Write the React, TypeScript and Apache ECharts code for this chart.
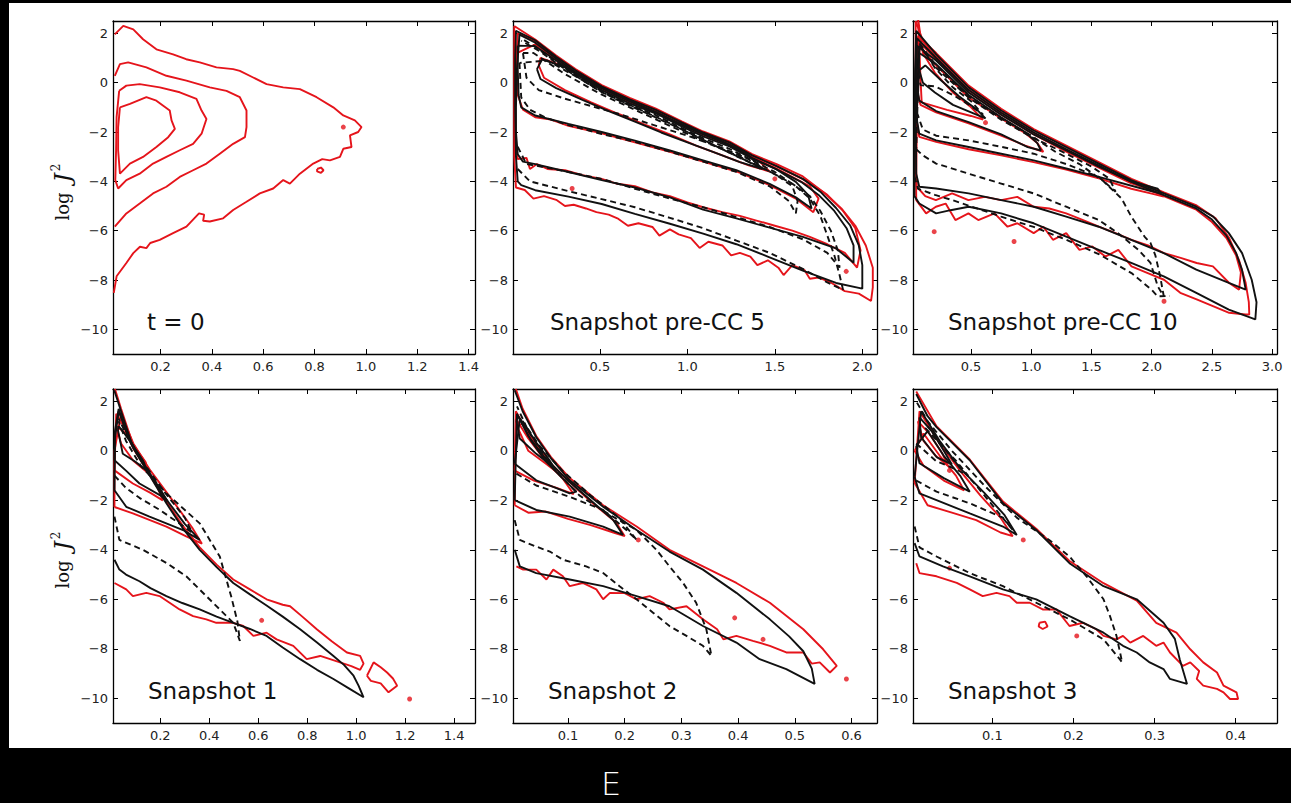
import React, { useEffect, useRef } from 'react';
import * as echarts from 'echarts';

type Pt = [number, number];

const panelTitles = ['t = 0', 'Snapshot pre-CC 5', 'Snapshot pre-CC 10', 'Snapshot 1', 'Snapshot 2', 'Snapshot 3'];
const yTicks = [-10, -8, -6, -4, -2, 0, 2];
const yRange: [number, number] = [-11, 2.5];
const xTicks: number[][] = [
  [0.2, 0.4, 0.6, 0.8, 1.0, 1.2, 1.4],
  [0.5, 1.0, 1.5, 2.0],
  [0.5, 1.0, 1.5, 2.0, 2.5, 3.0],
  [0.2, 0.4, 0.6, 0.8, 1.0, 1.2, 1.4],
  [0.1, 0.2, 0.3, 0.4, 0.5, 0.6],
  [0.1, 0.2, 0.3, 0.4],
];
const xRanges: [number, number][] = [
  [0.015, 1.425], [0.003, 2.084], [0.018, 3.04],
  [0.007, 1.485], [0.003, 0.645], [0.002, 0.451],
];

// ---------- Panel 1: t = 0 (red only) ----------
const p1Red: Pt[][] = [
  [[0.022,1.96],[0.055,2.3],[0.094,2.16],[0.132,1.76],[0.184,1.35],[0.249,1.15],[0.3,0.95],[0.353,0.82],[0.418,0.62],[0.483,0.55],[0.509,0.48],[0.561,0.21],[0.613,-0.06],[0.678,-0.19],[0.743,-0.26],[0.808,-0.59],[0.873,-1.0],[0.912,-1.33],[0.957,-1.53],[0.983,-1.8],[0.97,-2.0],[0.938,-2.14],[0.944,-2.61],[0.912,-2.68],[0.899,-3.01],[0.86,-3.15],[0.83,-3.1],[0.795,-3.28],[0.743,-3.69],[0.704,-4.09],[0.678,-3.95],[0.639,-4.29],[0.587,-4.49],[0.535,-4.83],[0.483,-5.16],[0.444,-5.5],[0.392,-5.63],[0.366,-5.6],[0.37,-5.35],[0.35,-5.3],[0.301,-5.84],[0.249,-6.1],[0.197,-6.37],[0.16,-6.5],[0.145,-6.71],[0.12,-6.65],[0.094,-6.91],[0.067,-7.31],[0.029,-7.85],[0.018,-8.52]],
  [[0.022,0.28],[0.042,0.75],[0.074,0.82],[0.145,0.62],[0.223,0.28],[0.301,0.08],[0.392,-0.19],[0.457,-0.33],[0.509,-0.59],[0.535,-1.13],[0.535,-1.8],[0.529,-2.21],[0.483,-2.48],[0.431,-2.88],[0.379,-3.28],[0.327,-3.55],[0.275,-3.82],[0.223,-4.22],[0.171,-4.49],[0.119,-4.9],[0.067,-5.3],[0.022,-5.84]],
  [[0.039,-0.33],[0.067,-0.12],[0.119,-0.06],[0.197,-0.19],[0.275,-0.39],[0.34,-0.66],[0.36,-1.13],[0.379,-1.47],[0.36,-2.07],[0.327,-2.48],[0.275,-2.74],[0.223,-3.01],[0.171,-3.28],[0.119,-3.69],[0.067,-3.95],[0.035,-4.29],[0.024,-3.95],[0.027,-2.74],[0.029,-1.4],[0.039,-0.33]],
  [[0.042,-1.0],[0.081,-0.86],[0.145,-0.59],[0.184,-0.73],[0.236,-1.13],[0.243,-1.53],[0.256,-1.87],[0.23,-2.21],[0.184,-2.61],[0.132,-3.01],[0.081,-3.28],[0.042,-3.69],[0.035,-2.74],[0.035,-1.8],[0.042,-1.0]],
  [[0.81,-3.5],[0.825,-3.44],[0.835,-3.55],[0.825,-3.66],[0.81,-3.6],[0.81,-3.5]],
];
const p1Dots: Pt[] = [[0.912, -1.8]];

// ---------- Panel 2: Snapshot pre-CC 5 ----------
const p2Red: Pt[][] = [
  [[0.01,2.3],[0.13,1.75],[0.25,1.1],[0.36,0.55],[0.51,-0.1],[0.67,-0.62],[0.82,-1.05],[0.97,-1.58],[1.09,-1.98],[1.24,-2.38],[1.37,-2.9],[1.51,-3.3],[1.66,-3.8],[1.78,-4.45],[1.88,-5.1],[1.96,-5.8],[2.02,-6.6],[2.06,-7.5],[2.06,-8.3],[2.05,-8.85],[1.98,-8.55],[1.9,-8.45],[1.82,-8.1],[1.75,-7.9],[1.7,-7.95],[1.67,-7.6],[1.6,-7.4],[1.55,-7.8],[1.52,-7.5],[1.46,-7.2],[1.4,-7.4],[1.36,-7.05],[1.3,-6.9],[1.25,-7.0],[1.2,-6.6],[1.12,-6.45],[1.07,-6.7],[1.02,-6.3],[0.95,-6.15],[0.9,-5.95],[0.84,-6.2],[0.8,-5.85],[0.72,-5.7],[0.66,-5.8],[0.6,-5.5],[0.55,-5.35],[0.48,-5.25],[0.42,-5.1],[0.35,-4.95],[0.3,-5.0],[0.25,-4.75],[0.18,-4.6],[0.12,-4.7],[0.07,-4.35],[0.02,-4.25],[0.01,-3.0],[0.01,0.0],[0.01,2.3]],
  [[0.015,-2.1],[0.03,-3.1],[0.08,-3.05],[0.1,-3.5],[0.14,-3.3],[0.2,-3.5],[0.3,-3.55],[0.4,-3.75],[0.51,-3.9],[0.6,-4.1],[0.7,-4.2],[0.8,-4.45],[0.9,-4.6],[1.0,-4.85],[1.09,-5.05],[1.2,-5.25],[1.3,-5.4],[1.4,-5.6],[1.5,-5.8],[1.6,-6.0],[1.7,-6.25],[1.8,-6.55],[1.9,-6.9],[1.97,-7.5],[1.99,-6.8],[1.96,-5.9],[1.89,-5.2],[1.8,-4.55],[1.68,-3.98],[1.52,-3.42],[1.38,-2.98],[1.24,-2.45],[1.09,-2.05],[0.97,-1.65],[0.82,-1.12],[0.67,-0.7],[0.51,-0.15],[0.36,0.48],[0.25,1.02],[0.13,1.68],[0.03,2.0],[0.015,0.0],[0.015,-2.1]],
  [[0.025,1.2],[0.03,-0.5],[0.06,-1.1],[0.13,-1.4],[0.22,-1.5],[0.32,-1.75],[0.51,-2.05],[0.7,-2.42],[0.9,-2.8],[1.09,-3.2],[1.28,-3.6],[1.47,-4.15],[1.62,-4.7],[1.72,-5.25],[1.75,-4.7],[1.7,-4.2],[1.62,-3.9],[1.51,-3.48],[1.37,-3.02],[1.24,-2.52],[1.09,-2.12],[0.97,-1.72],[0.82,-1.2],[0.67,-0.8],[0.51,-0.25],[0.36,0.4],[0.25,0.95],[0.13,1.55],[0.025,1.2]],
  [[0.15,0.7],[0.16,1.0],[0.3,0.65],[0.45,0.05],[0.6,-0.48],[0.75,-0.95],[0.9,-1.45],[1.05,-1.9],[1.2,-2.35],[1.33,-2.8],[1.42,-3.25],[1.47,-3.6],[1.35,-3.35],[1.2,-2.95],[1.05,-2.55],[0.9,-2.1],[0.75,-1.68],[0.6,-1.25],[0.45,-0.8],[0.3,-0.3],[0.18,0.2],[0.15,0.7]],
];
const p2Dots: Pt[] = [[0.341, -4.29], [1.908, -7.65], [1.5, -3.9]];
const p2Solid: Pt[][] = [
  [[0.03,-4.0],[0.02,-3.0],[0.015,-1.0],[0.015,1.0],[0.02,2.1],[0.13,1.72],[0.25,1.05],[0.36,0.5],[0.51,-0.15],[0.67,-0.68],[0.82,-1.1],[0.97,-1.62],[1.09,-2.02],[1.24,-2.42],[1.37,-2.95],[1.51,-3.38],[1.66,-3.9],[1.76,-4.42],[1.85,-5.08],[1.93,-5.78],[1.98,-6.6],[2.0,-7.4],[2.0,-8.35],[1.85,-8.12],[1.66,-7.62],[1.47,-7.08],[1.28,-6.55],[1.09,-6.12],[0.9,-5.72],[0.7,-5.32],[0.51,-4.92],[0.32,-4.62],[0.13,-4.36],[0.05,-4.15],[0.03,-4.0]],
  [[0.02,-2.0],[0.03,-2.9],[0.06,-3.2],[0.13,-3.3],[0.32,-3.62],[0.51,-3.95],[0.7,-4.25],[0.9,-4.65],[1.09,-5.15],[1.28,-5.5],[1.47,-5.88],[1.66,-6.25],[1.85,-6.72],[1.95,-7.3],[1.95,-6.6],[1.91,-5.9],[1.84,-5.2],[1.75,-4.55],[1.65,-4.02],[1.5,-3.48],[1.37,-3.05],[1.24,-2.52],[1.09,-2.1],[0.97,-1.72],[0.82,-1.18],[0.67,-0.76],[0.51,-0.22],[0.36,0.42],[0.25,0.98],[0.13,1.62],[0.04,1.95],[0.025,0.5],[0.02,-1.0],[0.02,-2.0]],
  [[0.03,1.5],[0.13,1.48],[0.25,0.9],[0.36,0.35],[0.51,-0.3],[0.67,-0.84],[0.82,-1.25],[0.97,-1.78],[1.09,-2.18],[1.24,-2.58],[1.37,-3.08],[1.51,-3.52],[1.62,-4.02],[1.69,-4.55],[1.71,-5.1],[1.62,-4.65],[1.47,-4.1],[1.28,-3.55],[1.09,-3.15],[0.9,-2.75],[0.7,-2.35],[0.51,-2.0],[0.32,-1.67],[0.13,-1.33],[0.05,-1.0],[0.035,-0.5],[0.03,0.5],[0.03,1.5]],
  [[0.14,0.55],[0.17,0.95],[0.3,0.62],[0.45,0.02],[0.6,-0.52],[0.75,-0.98],[0.9,-1.48],[1.05,-1.92],[1.2,-2.38],[1.33,-2.82],[1.43,-3.5],[1.3,-3.22],[1.15,-2.82],[1.0,-2.42],[0.85,-2.02],[0.7,-1.58],[0.55,-1.15],[0.4,-0.7],[0.25,-0.22],[0.16,0.15],[0.14,0.55]],
];
const p2Dashed: Pt[][] = [
  [[0.03,-3.5],[0.1,-4.0],[0.32,-4.4],[0.51,-4.72],[0.7,-5.05],[0.9,-5.48],[1.09,-5.9],[1.28,-6.4],[1.47,-6.9],[1.66,-7.55],[1.8,-8.1],[1.89,-8.4],[1.87,-7.8],[1.84,-7.0],[1.8,-6.2],[1.76,-5.4],[1.7,-4.7],[1.62,-4.2],[1.5,-3.62],[1.37,-3.15],[1.24,-2.68],[1.09,-2.25],[0.97,-1.85],[0.82,-1.32],[0.67,-0.9],[0.51,-0.38],[0.36,0.3],[0.25,0.85],[0.13,1.45],[0.05,1.8]],
  [[0.03,-2.6],[0.08,-3.3],[0.2,-3.45],[0.32,-3.62],[0.51,-3.9],[0.7,-4.3],[0.9,-4.7],[1.09,-5.05],[1.28,-5.45],[1.47,-5.85],[1.66,-6.35],[1.8,-6.9],[1.87,-7.5],[1.86,-6.8],[1.82,-6.0],[1.76,-5.2],[1.7,-4.6],[1.6,-4.1],[1.47,-3.6],[1.3,-3.05],[1.1,-2.35],[0.9,-1.65],[0.7,-1.0],[0.5,-0.35],[0.3,0.55],[0.15,1.3],[0.05,1.7]],
  [[0.04,0.8],[0.05,-0.6],[0.1,-1.1],[0.2,-1.45],[0.32,-1.72],[0.51,-2.08],[0.7,-2.4],[0.9,-2.8],[1.09,-3.2],[1.28,-3.62],[1.47,-4.2],[1.58,-4.8],[1.62,-5.3],[1.63,-4.8],[1.6,-4.2],[1.5,-3.7],[1.35,-3.2],[1.2,-2.7],[1.0,-2.0],[0.8,-1.35],[0.6,-0.7],[0.4,0.1],[0.2,0.9],[0.04,0.8]],
  [[0.06,1.2],[0.08,0.2],[0.15,-0.3],[0.3,-0.65],[0.45,-0.95],[0.6,-1.25],[0.8,-1.7],[1.0,-2.15],[1.2,-2.65],[1.35,-3.1],[1.42,-3.5],[1.3,-3.0],[1.1,-2.4],[0.9,-1.75],[0.7,-1.1],[0.5,-0.45],[0.3,0.35],[0.12,1.2],[0.06,1.2]],
];

// ---------- Panel 3: Snapshot pre-CC 10 ----------
const p3Red: Pt[][] = [
  [[0.04,2.5],[0.1,1.7],[0.21,1.2],[0.48,-0.12],[0.75,-1.06],[1.02,-1.88],[1.29,-2.55],[1.56,-3.22],[1.832,-3.9],[2.102,-4.45],[2.373,-4.98],[2.53,-5.5],[2.643,-6.3],[2.725,-7.2],[2.779,-8.1],[2.806,-8.9],[2.81,-9.4],[2.779,-9.4],[2.643,-9.33],[2.508,-9.06],[2.373,-8.79],[2.237,-8.52],[2.102,-7.99],[1.967,-7.72],[1.832,-7.45],[1.723,-6.78],[1.615,-7.05],[1.507,-6.64],[1.4,-6.78],[1.29,-6.1],[1.18,-6.37],[1.1,-5.84],[1.02,-6.1],[0.884,-5.7],[0.803,-5.84],[0.695,-5.3],[0.56,-5.57],[0.478,-5.3],[0.37,-5.57],[0.289,-4.9],[0.208,-5.03],[0.127,-5.3],[0.045,-4.76],[0.04,-2.0],[0.04,2.5]],
  [[0.045,-3.6],[0.05,-4.22],[0.12,-4.6],[0.208,-4.76],[0.343,-4.49],[0.478,-4.76],[0.614,-4.63],[0.749,-4.76],[0.884,-4.63],[1.02,-5.03],[1.15,-5.1],[1.29,-5.3],[1.42,-5.55],[1.561,-5.84],[1.7,-6.1],[1.832,-6.37],[1.97,-6.6],[2.102,-6.91],[2.24,-7.1],[2.373,-7.31],[2.508,-7.45],[2.643,-8.12],[2.725,-8.39],[2.74,-7.7],[2.7,-7.0],[2.62,-6.3],[2.5,-5.65],[2.37,-5.15],[2.1,-4.6],[1.83,-4.05],[1.56,-3.38],[1.29,-2.7],[1.02,-2.02],[0.75,-1.2],[0.48,-0.28],[0.21,1.05],[0.06,1.9],[0.045,-3.6]],
  [[0.05,-1.6],[0.07,-2.2],[0.21,-2.4],[0.48,-2.7],[0.75,-2.95],[1.02,-3.22],[1.29,-3.52],[1.56,-3.88],[1.83,-4.3],[2.0,-4.5],[2.1,-4.62],[2.05,-4.35],[1.83,-4.08],[1.56,-3.45],[1.29,-2.8],[1.02,-2.1],[0.75,-1.3],[0.48,-0.38],[0.21,0.95],[0.06,1.7],[0.05,-1.6]],
  [[0.06,-0.5],[0.08,-0.9],[0.21,-1.2],[0.48,-1.65],[0.75,-2.15],[0.95,-2.55],[1.1,-2.8],[1.05,-2.45],[0.95,-2.05],[0.75,-1.45],[0.48,-0.6],[0.21,0.7],[0.07,1.5],[0.06,-0.5]],
  [[0.06,2.6],[0.07,1.5],[0.08,0.2],[0.09,-0.8],[0.3,-1.1],[0.5,-1.35],[0.6,-1.5],[0.5,-1.0],[0.35,-0.4],[0.2,0.4],[0.1,1.2],[0.06,2.6]],
];
const p3Dots: Pt[] = [[0.194, -6.04], [0.857, -6.44], [2.102, -8.86], [0.62, -1.62]];
const p3Solid: Pt[][] = [
  [[0.03,-4.6],[0.03,-2.0],[0.035,0.5],[0.045,2.1],[0.21,1.15],[0.48,-0.19],[0.75,-1.13],[1.02,-1.94],[1.29,-2.61],[1.56,-3.28],[1.83,-3.95],[2.1,-4.49],[2.37,-5.03],[2.51,-5.43],[2.64,-6.1],[2.75,-6.91],[2.83,-7.99],[2.87,-8.9],[2.86,-9.6],[2.64,-9.2],[2.37,-8.52],[2.1,-7.85],[1.83,-7.31],[1.56,-6.78],[1.29,-6.24],[1.02,-5.7],[0.75,-5.3],[0.48,-5.03],[0.34,-5.16],[0.21,-5.3],[0.07,-4.9],[0.03,-4.6]],
  [[0.045,-3.7],[0.04,-1.0],[0.05,1.8],[0.21,1.0],[0.48,-0.3],[0.75,-1.22],[1.02,-2.02],[1.29,-2.7],[1.56,-3.35],[1.83,-4.02],[2.1,-4.56],[2.37,-5.1],[2.5,-5.55],[2.62,-6.2],[2.7,-6.9],[2.75,-7.6],[2.78,-8.39],[2.64,-8.12],[2.37,-7.58],[2.1,-6.91],[1.83,-6.37],[1.56,-5.84],[1.29,-5.43],[1.02,-5.03],[0.75,-4.76],[0.48,-4.49],[0.21,-4.29],[0.07,-4.22],[0.045,-3.7]],
  [[0.05,-1.5],[0.05,1.5],[0.21,0.9],[0.48,-0.4],[0.75,-1.3],[1.02,-2.1],[1.29,-2.75],[1.56,-3.4],[1.83,-4.0],[2.05,-4.3],[2.08,-4.5],[1.97,-4.36],[1.56,-3.82],[1.29,-3.48],[1.02,-3.15],[0.75,-2.88],[0.48,-2.61],[0.21,-2.34],[0.07,-2.07],[0.05,-1.5]],
  [[0.06,-0.4],[0.07,1.2],[0.21,0.75],[0.48,-0.5],[0.75,-1.4],[0.95,-2.0],[1.05,-2.45],[1.08,-2.75],[0.97,-2.61],[0.75,-2.1],[0.48,-1.6],[0.21,-1.15],[0.07,-0.73],[0.06,-0.4]],
  [[0.07,0.5],[0.1,0.0],[0.2,-0.4],[0.35,-0.9],[0.5,-1.2],[0.62,-1.45],[0.55,-1.1],[0.4,-0.55],[0.25,0.1],[0.12,0.7],[0.07,0.5]],
];
const p3Dashed: Pt[][] = [
  [[0.045,-2.7],[0.1,-2.95],[0.21,-3.28],[0.48,-3.69],[0.75,-4.09],[1.02,-4.49],[1.29,-5.03],[1.56,-5.57],[1.72,-6.1],[1.89,-6.78],[1.99,-7.31],[2.05,-8.26],[2.1,-8.66],[2.07,-7.85],[2.03,-7.0],[1.99,-6.5],[1.94,-6.24],[1.83,-5.43],[1.75,-4.7],[1.6,-4.0],[1.4,-3.3],[1.2,-2.8],[1.0,-2.15],[0.75,-1.45],[0.48,-0.55],[0.21,0.7],[0.07,1.6],[0.045,-2.7]],
  [[0.03,-3.8],[0.06,-4.3],[0.2,-4.55],[0.343,-4.76],[0.55,-5.1],[0.749,-5.43],[1.02,-5.85],[1.29,-6.37],[1.56,-6.95],[1.832,-7.72],[2.0,-8.4],[2.048,-8.66],[2.15,-8.65]],
  [[0.05,-1.2],[0.1,-1.9],[0.21,-2.15],[0.48,-2.34],[0.75,-2.6],[1.02,-2.88],[1.29,-3.3],[1.56,-3.82],[1.7,-4.42],[1.65,-3.9],[1.5,-3.4],[1.3,-2.9],[1.0,-2.2],[0.75,-1.5],[0.48,-0.6],[0.21,0.6],[0.07,1.5],[0.05,-1.2]],
  [[0.05,0.8],[0.08,-0.1],[0.2,-0.15],[0.35,-0.5],[0.5,-0.95],[0.6,-1.3],[0.5,-0.75],[0.35,-0.2],[0.2,0.6],[0.08,1.5],[0.05,0.8]],
];

// ---------- Panel 4: Snapshot 1 ----------
const p4Red: Pt[][] = [
  [[0.015,2.5],[0.04,1.7],[0.09,0.2],[0.16,-1.0],[0.225,-2.05],[0.29,-3.0],[0.361,-3.9],[0.43,-4.6],[0.498,-5.2],[0.566,-5.6],[0.634,-6.0],[0.7,-6.22],[0.73,-6.28],[0.78,-6.7],[0.839,-7.21],[0.9,-7.7],[0.962,-8.15],[1.016,-8.29],[1.03,-8.6],[1.016,-8.85],[0.98,-8.7],[0.934,-8.55],[0.853,-8.29],[0.798,-8.42],[0.743,-7.88],[0.675,-7.62],[0.634,-7.35],[0.58,-7.48],[0.539,-7.08],[0.498,-6.95],[0.429,-6.95],[0.388,-6.81],[0.334,-6.68],[0.279,-6.41],[0.238,-6.14],[0.197,-5.87],[0.143,-5.74],[0.088,-5.87],[0.061,-5.6],[0.013,-5.34]],
  [[1.044,-9.09],[1.071,-8.55],[1.1,-8.75],[1.126,-8.96],[1.15,-9.2],[1.167,-9.49],[1.132,-9.76],[1.1,-9.4],[1.06,-9.3],[1.044,-9.09]],
  [[0.013,-2.27],[0.088,-2.53],[0.225,-3.06],[0.306,-3.46],[0.37,-3.75],[0.33,-3.1],[0.25,-2.0],[0.16,-0.8],[0.09,0.3],[0.04,1.5],[0.013,0.0],[0.013,-2.27]],
  [[0.013,-0.79],[0.088,-1.32],[0.16,-1.7],[0.21,-2.0],[0.19,-1.5],[0.14,-0.7],[0.09,0.1],[0.05,1.0],[0.02,1.5],[0.013,-0.79]],
  [[0.02,1.0],[0.04,0.3],[0.09,-0.4],[0.15,-0.9],[0.14,-0.45],[0.1,0.1],[0.06,0.7],[0.02,1.0]],
];
const p4Dots: Pt[] = [[1.218, -10.03], [0.614, -6.85]];
const p4Solid: Pt[][] = [
  [[0.012,2.45],[0.04,1.6],[0.088,0.15],[0.16,-1.05],[0.225,-2.12],[0.29,-3.1],[0.361,-4.0],[0.43,-4.7],[0.498,-5.34],[0.566,-5.8],[0.634,-6.25],[0.7,-6.7],[0.771,-7.21],[0.84,-7.75],[0.907,-8.29],[0.95,-8.65],[0.989,-9.09],[1.01,-9.5],[1.03,-9.96],[0.97,-9.6],[0.907,-9.22],[0.84,-8.85],[0.771,-8.42],[0.7,-7.95],[0.634,-7.48],[0.566,-7.2],[0.498,-6.95],[0.43,-6.7],[0.361,-6.41],[0.29,-6.15],[0.225,-5.87],[0.16,-5.55],[0.115,-5.27],[0.06,-5.0],[0.033,-4.8],[0.013,-4.4]],
  [[0.013,-1.59],[0.061,-2.26],[0.156,-2.66],[0.293,-3.2],[0.361,-3.6],[0.3,-2.95],[0.22,-1.9],[0.15,-0.85],[0.08,0.3],[0.03,1.6],[0.015,0.5],[0.013,-1.59]],
  [[0.013,-0.38],[0.06,-0.8],[0.115,-1.32],[0.2,-1.8],[0.23,-2.05],[0.2,-1.55],[0.15,-0.8],[0.1,0.0],[0.06,0.8],[0.03,1.7],[0.015,0.8],[0.013,-0.38]],
  [[0.027,0.85],[0.047,-0.12],[0.1,-0.45],[0.145,-0.8],[0.13,-0.4],[0.09,0.2],[0.05,0.75],[0.03,1.0],[0.027,0.85]],
];
const p4Dashed: Pt[][] = [
  [[0.013,-2.66],[0.033,-3.6],[0.129,-4.0],[0.225,-4.53],[0.306,-5.07],[0.388,-5.87],[0.443,-6.41],[0.498,-6.95],[0.525,-7.68],[0.515,-6.9],[0.49,-5.9],[0.443,-4.27],[0.361,-2.93],[0.225,-1.72],[0.12,-0.6],[0.06,0.4],[0.03,1.2]],
  [[0.013,-1.0],[0.06,-1.5],[0.115,-1.9],[0.2,-2.4],[0.28,-2.95],[0.33,-3.3],[0.3,-2.7],[0.22,-1.7],[0.14,-0.6],[0.07,0.5],[0.03,1.3]],
];

// ---------- Panel 5: Snapshot 2 ----------
const p5Red: Pt[][] = [
  [[0.008,2.5],[0.02,1.7],[0.044,0.6],[0.07,-0.25],[0.103,-1.1],[0.162,-2.2],[0.221,-3.06],[0.279,-4.0],[0.338,-4.67],[0.397,-5.34],[0.456,-6.14],[0.515,-7.21],[0.55,-8.02],[0.574,-8.69],[0.562,-8.96],[0.544,-8.55],[0.53,-8.6],[0.515,-8.15],[0.485,-8.15],[0.456,-7.88],[0.426,-7.68],[0.397,-7.48],[0.374,-7.62],[0.363,-7.21],[0.338,-6.81],[0.309,-6.28],[0.279,-6.41],[0.268,-6.14],[0.244,-5.87],[0.221,-6.0],[0.2,-5.75],[0.174,-5.74],[0.162,-6.0],[0.15,-5.6],[0.126,-5.34],[0.103,-5.47],[0.091,-5.07],[0.074,-4.8],[0.062,-5.2],[0.044,-4.8],[0.021,-4.8],[0.009,-4.67]],
  [[0.006,-2.2],[0.03,-2.5],[0.06,-2.45],[0.1,-2.75],[0.14,-3.0],[0.18,-3.3],[0.2,-3.45],[0.185,-2.9],[0.14,-2.05],[0.1,-1.2],[0.06,-0.3],[0.03,0.7],[0.008,1.6],[0.006,-2.2]],
  [[0.006,-0.8],[0.04,-1.2],[0.08,-1.5],[0.11,-1.75],[0.09,-1.1],[0.06,-0.4],[0.03,0.5],[0.008,1.3],[0.006,-0.8]],
  [[0.01,1.0],[0.03,0.0],[0.06,-0.5],[0.08,-0.85],[0.065,-0.35],[0.04,0.4],[0.02,1.1],[0.01,1.0]],
];
const p5Dots: Pt[] = [[0.591, -9.22], [0.444, -7.62], [0.394, -6.75], [0.224, -3.6]];
const p5Solid: Pt[][] = [
  [[0.006,2.45],[0.02,1.6],[0.044,0.55],[0.07,-0.3],[0.103,-1.19],[0.162,-2.26],[0.221,-3.2],[0.279,-4.07],[0.338,-4.8],[0.397,-5.74],[0.456,-6.81],[0.49,-7.5],[0.515,-8.1],[0.53,-8.8],[0.535,-9.42],[0.485,-8.82],[0.438,-8.42],[0.397,-7.75],[0.338,-7.08],[0.279,-6.28],[0.221,-5.87],[0.162,-5.47],[0.103,-5.2],[0.044,-4.94],[0.015,-4.67],[0.006,-4.0]],
  [[0.006,-1.99],[0.044,-2.39],[0.103,-2.66],[0.162,-3.06],[0.197,-3.4],[0.18,-2.8],[0.14,-2.0],[0.1,-1.2],[0.06,-0.3],[0.03,0.6],[0.01,1.5],[0.006,-1.99]],
  [[0.006,-0.52],[0.044,-1.19],[0.074,-1.46],[0.103,-1.72],[0.115,-1.65],[0.09,-1.1],[0.06,-0.4],[0.035,0.4],[0.015,1.3],[0.006,-0.52]],
  [[0.009,1.22],[0.015,0.5],[0.044,-0.12],[0.074,-0.65],[0.079,-0.79],[0.065,-0.3],[0.045,0.3],[0.025,1.0],[0.012,1.4],[0.009,1.22]],
];
const p5Dashed: Pt[][] = [
  [[0.006,-2.8],[0.015,-3.6],[0.044,-3.87],[0.068,-4.07],[0.091,-4.4],[0.132,-4.67],[0.162,-4.94],[0.191,-5.47],[0.221,-6.0],[0.25,-6.54],[0.279,-7.08],[0.309,-7.48],[0.338,-7.88],[0.353,-8.29],[0.344,-7.21],[0.326,-6.14],[0.303,-5.34],[0.279,-4.67],[0.256,-4.0],[0.221,-3.2],[0.179,-2.66],[0.12,-1.8],[0.07,-0.6],[0.03,0.8],[0.01,1.8]],
  [[0.009,-0.92],[0.044,-1.4],[0.103,-1.86],[0.162,-2.39],[0.203,-3.2],[0.221,-3.6],[0.19,-2.7],[0.14,-1.8],[0.09,-0.8],[0.05,0.2],[0.02,1.2]],
];

// ---------- Panel 6: Snapshot 3 ----------
const p6Red: Pt[][] = [
  [[0.006,2.4],[0.031,1.0],[0.072,-0.35],[0.113,-2.05],[0.154,-3.15],[0.195,-4.45],[0.237,-5.35],[0.278,-6.05],[0.302,-6.95],[0.327,-7.35],[0.344,-8.02],[0.36,-8.55],[0.377,-8.96],[0.385,-9.49],[0.401,-9.76],[0.403,-10.03],[0.393,-10.03],[0.385,-9.76],[0.377,-9.62],[0.36,-9.49],[0.352,-9.22],[0.355,-8.9],[0.344,-8.55],[0.335,-8.69],[0.319,-8.15],[0.311,-7.75],[0.302,-7.88],[0.286,-7.48],[0.27,-7.75],[0.261,-7.48],[0.253,-7.62],[0.237,-7.48],[0.228,-7.21],[0.212,-6.95],[0.195,-7.08],[0.179,-6.41],[0.162,-6.41],[0.146,-6.14],[0.13,-6.14],[0.121,-5.87],[0.105,-5.74],[0.088,-5.87],[0.072,-5.6],[0.056,-5.34],[0.031,-5.07],[0.01,-4.94],[0.006,-4.54]],
  [[0.004,-1.3],[0.02,-2.2],[0.05,-2.5],[0.08,-2.8],[0.11,-3.3],[0.125,-3.45],[0.11,-2.7],[0.085,-1.8],[0.06,-0.8],[0.035,0.3],[0.01,1.6],[0.004,-1.3]],
  [[0.004,0.0],[0.015,-0.6],[0.04,-1.2],[0.065,-1.6],[0.055,-1.0],[0.035,-0.2],[0.015,0.7],[0.004,0.0]],
  [[0.008,1.2],[0.015,0.4],[0.03,-0.2],[0.045,-0.6],[0.038,-0.1],[0.022,0.7],[0.008,1.2]],
  [[0.158,-6.95],[0.165,-6.9],[0.168,-7.1],[0.162,-7.2],[0.157,-7.1],[0.158,-6.95]],
];
const p6Dots: Pt[] = [[0.204, -7.48], [0.047, -4.74], [0.138, -3.6], [0.047, -0.79]];
const p6Solid: Pt[][] = [
  [[0.006,2.3],[0.02,1.4],[0.031,0.96],[0.072,-0.38],[0.113,-2.12],[0.154,-3.2],[0.195,-4.54],[0.237,-5.47],[0.278,-6.0],[0.311,-6.95],[0.325,-7.6],[0.331,-8.42],[0.34,-9.42],[0.319,-9.22],[0.311,-8.82],[0.294,-8.55],[0.278,-8.15],[0.261,-7.88],[0.237,-7.35],[0.195,-6.68],[0.154,-6.0],[0.113,-5.6],[0.072,-5.07],[0.039,-4.67],[0.01,-4.27],[0.004,-3.73]],
  [[0.004,-1.05],[0.01,-1.72],[0.031,-1.99],[0.072,-2.53],[0.113,-3.06],[0.13,-3.4],[0.115,-2.6],[0.09,-1.7],[0.06,-0.7],[0.035,0.4],[0.012,1.6],[0.004,-1.05]],
  [[0.006,0.2],[0.01,-0.5],[0.04,-1.1],[0.072,-1.65],[0.06,-1.0],[0.04,-0.2],[0.02,0.8],[0.006,0.2]],
  [[0.01,1.35],[0.012,0.55],[0.031,-0.25],[0.05,-0.55],[0.04,0.0],[0.025,0.8],[0.01,1.35]],
];
const p6Dashed: Pt[][] = [
  [[0.004,-3.06],[0.01,-3.9],[0.031,-4.27],[0.072,-4.94],[0.113,-5.47],[0.154,-6.14],[0.195,-6.81],[0.237,-7.62],[0.257,-8.42],[0.26,-8.55],[0.253,-7.48],[0.245,-6.68],[0.237,-6.0],[0.216,-5.07],[0.195,-4.27],[0.17,-3.6],[0.13,-2.7],[0.09,-1.4],[0.05,0.0],[0.02,1.2],[0.006,2.0]],
  [[0.006,-1.2],[0.031,-1.65],[0.072,-2.12],[0.113,-2.7],[0.125,-3.2],[0.105,-2.4],[0.08,-1.4],[0.05,-0.3],[0.02,1.0]],
  [[0.006,0.3],[0.03,-0.4],[0.055,-0.75],[0.07,-1.0],[0.055,-0.4],[0.035,0.3],[0.015,1.0]],
];

const panelRed = [p1Red, p2Red, p3Red, p4Red, p5Red, p6Red];
const panelDots = [p1Dots, p2Dots, p3Dots, p4Dots, p5Dots, p6Dots];
const panelSolid: Pt[][][] = [[], p2Solid, p3Solid, p4Solid, p5Solid, p6Solid];
const panelDashed: Pt[][][] = [[], p2Dashed, p3Dashed, p4Dashed, p5Dashed, p6Dashed];

const RED = '#e5141b';
const BLACK = '#111111';

const gridBoxes = [
  { left: 113, top: 21, width: 362, height: 333 },
  { left: 513, top: 21, width: 364, height: 333 },
  { left: 913, top: 21, width: 364, height: 333 },
  { left: 113, top: 389, width: 362, height: 334 },
  { left: 513, top: 389, width: 364, height: 334 },
  { left: 913, top: 389, width: 364, height: 334 },
];
const titlePos = [
  [147, 322], [550, 322], [948, 322],
  [148, 691], [548, 691], [948, 691],
];

const fmtY = (v: number) => (v < 0 ? '\u2212' + Math.abs(v) : String(v));
const fmtX = (v: number) => v.toFixed(1);

export default function App() {
  const ref = useRef<HTMLDivElement>(null);
  useEffect(() => {
    if (!ref.current) return;
    const chart = echarts.init(ref.current, null, { renderer: 'svg' });
    const grid: any[] = [];
    const xAxis: any[] = [];
    const yAxis: any[] = [];
    const series: any[] = [];
    const lineAxis = { show: true, onZero: false, lineStyle: { color: '#000', width: 1.3 } };
    for (let i = 0; i < 6; i++) {
      grid.push({ ...gridBoxes[i], containLabel: false });
      const [xmin, xmax] = xRanges[i];
      const tickX = { show: true, inside: true, length: 5, customValues: xTicks[i], lineStyle: { color: '#000', width: 1 } };
      const tickY = { show: true, inside: true, length: 5, customValues: yTicks, lineStyle: { color: '#000', width: 1 } };
      xAxis.push({
        type: 'value', gridIndex: i, position: 'bottom', min: xmin, max: xmax,
        axisLine: lineAxis, axisTick: tickX, splitLine: { show: false },
        axisLabel: { show: true, customValues: xTicks[i], formatter: fmtX, color: '#222', fontSize: 13, fontFamily: 'DejaVu Sans', margin: 6 },
      });
      xAxis.push({
        type: 'value', gridIndex: i, position: 'top', min: xmin, max: xmax,
        axisLine: lineAxis, axisTick: tickX, splitLine: { show: false }, axisLabel: { show: false },
      });
      yAxis.push({
        type: 'value', gridIndex: i, position: 'left', min: yRange[0], max: yRange[1],
        axisLine: lineAxis, axisTick: tickY, splitLine: { show: false },
        axisLabel: { show: true, customValues: yTicks, formatter: fmtY, color: '#222', fontSize: 13, fontFamily: 'DejaVu Sans', margin: 5 },
      });
      yAxis.push({
        type: 'value', gridIndex: i, position: 'right', min: yRange[0], max: yRange[1],
        axisLine: lineAxis, axisTick: tickY, splitLine: { show: false }, axisLabel: { show: false },
      });
      const xi = 2 * i;
      const base = { type: 'line', xAxisIndex: xi, yAxisIndex: xi, showSymbol: false, symbol: 'none', silent: true, clip: true };
      panelRed[i].forEach((c) => series.push({ ...base, data: c, z: 3, lineStyle: { color: RED, width: 1.9 } }));
      panelDashed[i].forEach((c) => series.push({ ...base, data: c, z: 4, lineStyle: { color: BLACK, width: 1.9, type: [6, 4] } }));
      panelSolid[i].forEach((c) => series.push({ ...base, data: c, z: 5, lineStyle: { color: BLACK, width: 1.9 } }));
      series.push({
        type: 'scatter', xAxisIndex: xi, yAxisIndex: xi, data: panelDots[i], symbolSize: 5, silent: true, z: 3,
        itemStyle: { color: RED },
      });
    }
    const graphic: any[] = [
      { type: 'rect', z: -100, shape: { x: 9, y: 3, width: 1282, height: 745 }, style: { fill: '#ffffff' } },
      ...panelTitles.map((t, i) => ({
        type: 'text', z: 100, x: titlePos[i][0], y: titlePos[i][1],
        style: { text: t, fill: '#111', font: '23px "DejaVu Sans"', verticalAlign: 'middle' },
      })),
      ...[192, 560].map((cy) => ({
        type: 'text', z: 100, x: 62, y: cy, rotation: Math.PI / 2,
        style: {
          text: '{a|log}{b|J}{c|2}',
          align: 'center', verticalAlign: 'middle', fill: '#111',
          rich: {
            a: { fontFamily: 'DejaVu Serif', fontSize: 18, fill: '#111', padding: [0, 6, 0, 0] },
            b: { fontFamily: 'DejaVu Serif', fontStyle: 'italic', fontSize: 23, fill: '#111', padding: [0, 2, 0, 4] },
            c: { fontFamily: 'DejaVu Serif', fontSize: 12, fill: '#111', padding: [0, 0, 12, 0] },
          },
        },
      })),
      {
        type: 'text', z: 100, x: 611, y: 784,
        style: { text: 'E', fill: '#ffffff', font: '200 32px "DejaVu Sans"', align: 'center', verticalAlign: 'middle' },
      },
    ];
    chart.setOption({
      animation: false,
      backgroundColor: 'transparent',
      grid, xAxis, yAxis, series, graphic,
    });
    return () => chart.dispose();
  }, []);
  return (
    <div
      ref={ref}
      style={{ position: 'fixed', left: 0, top: 0, width: 1291, height: 803, background: '#000' }}
    />
  );
}
